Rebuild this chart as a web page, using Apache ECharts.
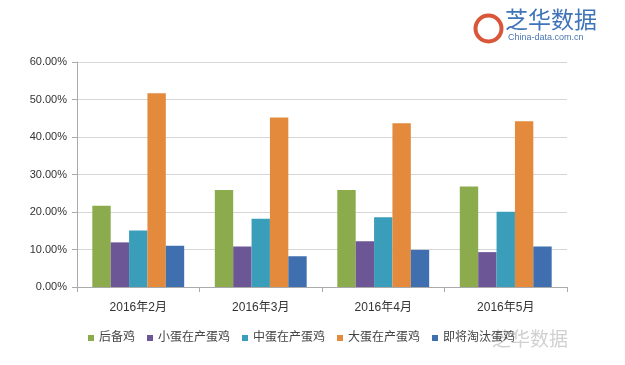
<!DOCTYPE html>
<html><head><meta charset="utf-8">
<script src="https://cdn.jsdelivr.net/npm/echarts@6/dist/echarts.min.js"></script>
<style>html,body{margin:0;padding:0;background:#fff}#c{width:625px;height:365px}</style>
</head><body><div id="c"></div>
<script>
const categories = ['2016年2月','2016年3月','2016年4月','2016年5月'];
const seriesNames = ['后备鸡','小蛋在产蛋鸡','中蛋在产蛋鸡','大蛋在产蛋鸡','即将淘汰蛋鸡'];
const houbei = [21.7, 25.9, 25.9, 26.8];
const xiaodan = [11.9, 10.8, 12.2, 9.3];
const zhongdan = [15.1, 18.2, 18.6, 20.1];
const dadan = [51.7, 45.2, 43.7, 44.2];
const taotai = [11.0, 8.2, 9.9, 10.8];
const yTicks = [0, 10, 20, 30, 40, 50, 60];

const values = [houbei, xiaodan, zhongdan, dadan, taotai];
const colors = ['#8cab4c','#6d5696','#3a9ebb','#e38a3d','#3f6fae'];
const font = '"Liberation Sans", "Noto Sans CJK SC", sans-serif';

const chart = echarts.init(document.getElementById('c'), null, {renderer:'canvas'});
chart.setOption({
  animation:false,
  backgroundColor:'#fff',
  color: colors,
  grid:{left:77, right:58, top:62, bottom:78, containLabel:false},
  legend:{
    bottom:16, left:83, itemWidth:6, itemHeight:6, itemGap:12, icon:'rect',
    textStyle:{fontSize:12, color:'#444', fontFamily:font},
    data: seriesNames
  },
  xAxis:{
    type:'category', data:categories,
    axisLine:{lineStyle:{color:'#aaa'}},
    axisTick:{show:true, alignWithLabel:false, length:5, lineStyle:{color:'#aaa'}},
    axisLabel:{fontSize:12, color:'#333', margin:15, fontFamily:font}
  },
  yAxis:{
    type:'value', min:yTicks[0], max:yTicks[yTicks.length-1], interval:10,
    axisLine:{show:true, lineStyle:{color:'#aaa'}},
    axisTick:{show:true, length:5, lineStyle:{color:'#aaa'}},
    splitLine:{lineStyle:{color:'#d6d6d6'}},
    axisLabel:{fontSize:11, color:'#333', margin:10, fontFamily:font,
      formatter: v => v.toFixed(2) + '%'}
  },
  series: seriesNames.map((n,i)=>({
    name:n, type:'bar', data: values[i], barGap:'0%', barCategoryGap:'25%',
    itemStyle:{color:colors[i]}
  })),
  graphic:[
    {type:'circle', left:473, top:13, shape:{r:13}, style:{fill:'none', stroke:'#d9563a', lineWidth:4}},
    {type:'text', left:505, top:8, style:{text:'芝华数据', fontSize:23, fill:'#3f74b8', fontFamily:'"Noto Sans CJK SC", sans-serif'}},
    {type:'text', left:508, top:33, style:{text:'China-data.com.cn', fontSize:9, fill:'#4a77b0', fontFamily:font}},
    {type:'text', left:492, top:329, style:{text:'芝华数据', fontSize:19, fill:'rgba(150,150,150,0.45)', fontFamily:'"Noto Sans CJK SC", sans-serif'}}
  ]
});
</script></body></html>
